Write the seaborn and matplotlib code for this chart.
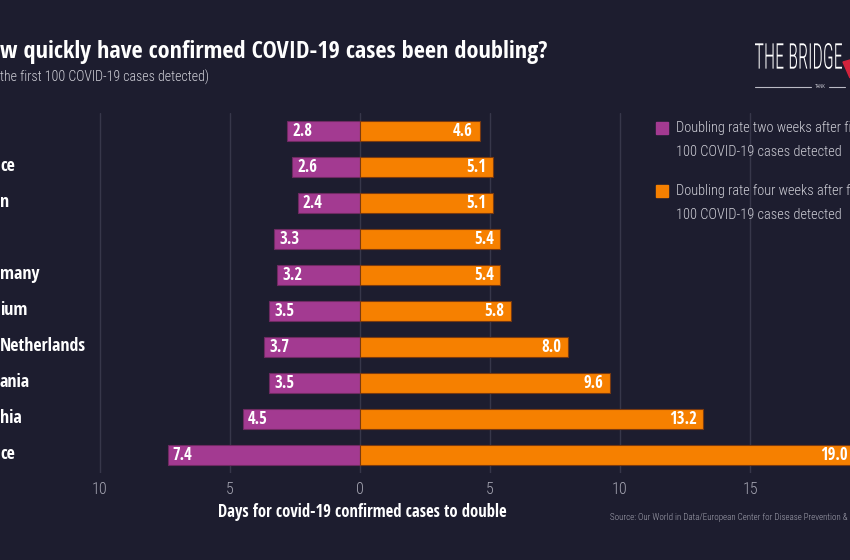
import numpy as np
import pandas as pd
import matplotlib.pyplot as plt
import seaborn as sns
from matplotlib.textpath import TextPath
from matplotlib.patches import PathPatch, Polygon
from matplotlib.font_manager import FontProperties
from matplotlib.transforms import Affine2D

# data (labels are cut off at the left edge in the original)
countries = ['', 'ce', 'n', '', 'many', 'ium', 'Netherlands', 'ania', 'hia', 'ce']
two_weeks = [2.8, 2.6, 2.4, 3.3, 3.2, 3.5, 3.7, 3.5, 4.5, 7.4]
four_weeks = [4.6, 5.1, 5.1, 5.4, 5.4, 5.8, 8.0, 9.6, 13.2, 19.0]
xticks = [-10, -5, 0, 5, 10, 15, 20]
xtick_labels = ['10', '5', '0', '5', '10', '15']

bg = '#1d1d2f'
purple = '#a33a91'
orange = '#f68000'
narrow = ['Open Sans Condensed', 'Roboto Condensed', 'Archivo Narrow', 'DejaVu Sans']
thin = ['Open Sans Condensed Light', 'Roboto Condensed', 'Archivo Narrow', 'DejaVu Sans']

sns.set_theme(style='dark')
plt.rcParams['font.family'] = narrow

df = pd.DataFrame({
    'row': list(range(len(countries))) * 2,
    'value': [-v for v in two_weeks] + four_weeks,
    'series': ['two'] * len(two_weeks) + ['four'] * len(four_weeks),
})

fig = plt.figure(figsize=(8.5, 5.6), dpi=100, facecolor=bg)
ax = fig.add_axes([0, 1 - 473 / 560, 1, 360 / 560])
ax.set_facecolor(bg)

sns.barplot(data=df, x='value', y='row', hue='series', orient='h', dodge=False,
            palette={'two': purple, 'four': orange}, width=0.53, saturation=1,
            legend=False, ax=ax, linewidth=0.8, edgecolor='#7a3a10')
for p in ax.patches[:len(two_weeks)]:
    p.set_edgecolor('#6e2a62')

ax.set_xlim(-360 / 26, 490 / 26)
ax.set_ylim(9.5, -0.5)
for t in xticks:
    ax.axvline(t, color='#37374a', lw=1, zorder=0)
ax.set_xticks([])
ax.set_yticks([])
ax.set_xlabel('')
ax.set_ylabel('')
for s in ax.spines.values():
    s.set_visible(False)

# value labels
for i, (a, b) in enumerate(zip(two_weeks, four_weeks)):
    ax.text(-a + 0.2, i, f'{a:.1f}', ha='left', va='center', color='white',
            fontsize=12, fontweight='bold', clip_on=False)
    ax.text(b - 0.25, i, f'{b:.1f}', ha='right', va='center', color='white',
            fontsize=12, fontweight='bold', clip_on=False)

# country labels
for i, c in enumerate(countries):
    ax.text(-360 / 26, i - 0.02, c, ha='left', va='center', color='white',
            fontsize=13, fontweight='bold', clip_on=False)

# tick labels below the plot
for t, lab in zip(xticks, xtick_labels):
    fig.text((360 + 26 * t) / 850, 1 - 490 / 560, lab, ha='center', va='center',
             color='#a5a5b2', fontsize=11.5, family=thin, fontweight='light')

fig.text(362 / 850, 1 - 512 / 560, 'Days for covid-19 confirmed cases to double',
         ha='center', va='center', color='white', fontsize=12, fontweight='bold')
fig.text(610 / 850, 1 - 517 / 560,
         'Source: Our World in Data/European Center for Disease Prevention &',
         ha='left', va='center', color='#a5a5b2', fontsize=6.5, family=thin,
         fontweight='light')

# title
fig.text(0, 1 - 52 / 560, 'w quickly have confirmed COVID-19 cases been doubling?',
         ha='left', va='center', color='white', fontsize=17.5, fontweight='bold')
fig.text(0, 1 - 77 / 560, 'the first 100 COVID-19 cases detected)',
         ha='left', va='center', color='#d0d0d8', fontsize=10, family=thin,
         fontweight='light')

# legend
leg_items = [(128, purple, 'Doubling rate two weeks after fi'),
             (191, orange, 'Doubling rate four weeks after f')]
for y, col, txt in leg_items:
    fig.patches.append(plt.Rectangle((656 / 850, 1 - (y + 6) / 560), 12 / 850, 12 / 560,
                                     transform=fig.transFigure, color=col))
    fig.text(676 / 850, 1 - y / 560, txt, ha='left', va='center',
             color='#d0d0d8', fontsize=10.4, family=thin, fontweight='light')
    fig.text(676 / 850, 1 - (y + 24) / 560, '100 COVID-19 cases detected',
             ha='left', va='center', color='#d0d0d8', fontsize=10.4, family=thin,
             fontweight='light')

# logo
fp = FontProperties(family=thin, weight='light')
tp = TextPath((0, 0), 'THE BRIDGE', size=1, prop=fp)
ext = tp.get_extents()
tr = (Affine2D().translate(-ext.x0, -ext.y0)
      .scale(87 / ext.width, 26 / ext.height)
      .translate(755, 560 - 69))
fig.patches.append(PathPatch(tr.transform_path(tp),
                             transform=Affine2D().scale(1 / 850, 1 / 560) + fig.transFigure,
                             facecolor='white', edgecolor='none'))
fig.add_artist(plt.Line2D([755 / 850, 811 / 850], [1 - 87 / 560] * 2,
                          transform=fig.transFigure, color='#bbbbc5', lw=0.8))
fig.add_artist(plt.Line2D([829 / 850, 845 / 850], [1 - 87 / 560] * 2,
                          transform=fig.transFigure, color='#bbbbc5', lw=0.8))
fig.text(820 / 850, 1 - 87 / 560, 'TANK', ha='center', va='center',
         color='#bbbbc5', fontsize=3.5, family=thin)
fig.patches.append(Polygon([[843 / 850, 1 - 62 / 560], [850 / 850, 1 - 60 / 560],
                            [850 / 850, 1 - 78 / 560]], closed=True,
                           transform=fig.transFigure, color='#d2233c'))

fig.savefig('out.png', dpi=100, facecolor=bg)
